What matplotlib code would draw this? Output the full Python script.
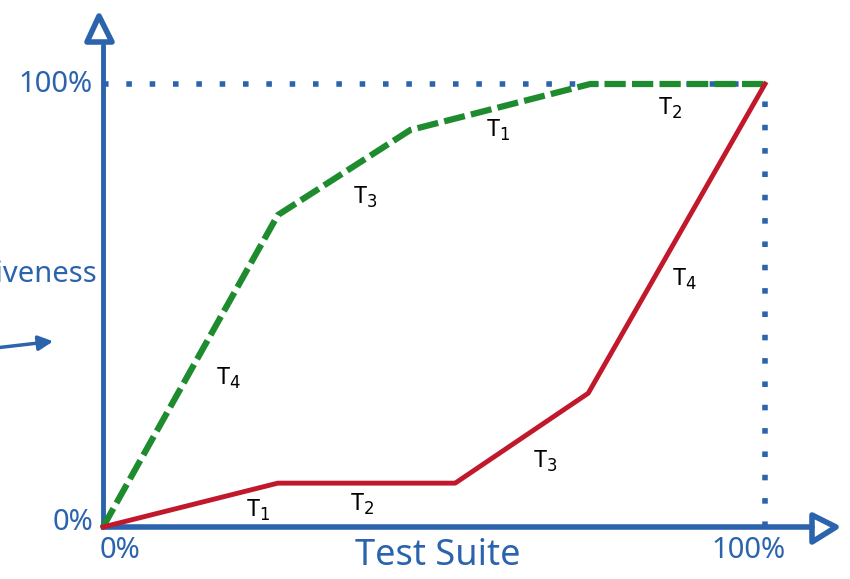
import matplotlib
matplotlib.use("Agg")
import matplotlib.pyplot as plt
from matplotlib.patches import Polygon

# Data (fractions of test suite / effectiveness)
green_x = [0.0, 0.264, 0.464, 0.736, 1.0]
green_y = [0.0, 0.704, 0.896, 1.0, 1.0]
red_x = [0.0, 0.264, 0.532, 0.733, 1.0]
red_y = [0.0, 0.099, 0.099, 0.302, 1.0]
green_labels = ["T$_4$", "T$_3$", "T$_1$", "T$_2$"]
green_label_pos = [(0.189, 0.336), (0.396, 0.745), (0.597, 0.896), (0.857, 0.946)]
red_labels = ["T$_1$", "T$_2$", "T$_3$", "T$_4$"]
red_label_pos = [(0.234, 0.038), (0.391, 0.05), (0.668, 0.147), (0.879, 0.558)]
xtick_labels = ["0%", "100%"]
ytick_labels = ["0%", "100%"]

BLUE = "#2b63ad"
GREEN = "#1e8c2e"
RED = "#c1182b"

plt.rcParams['font.family'] = ['Noto Sans', 'DejaVu Sans']

fig = plt.figure(figsize=(8.5, 5.79), dpi=100)
ax = fig.add_axes([0, 0, 1, 1])
W, H = 850, 579
x0p, x1p = 103, 765
y0p, y1p = 527, 84
sx = x1p - x0p
sy = y0p - y1p
ax.set_xlim(-x0p / sx, (W - x0p) / sx)
ax.set_ylim(-(H - y0p) / sy, y0p / sy)
ax.axis('off')

def px(x, y):
    return ((x - x0p) / sx, (y0p - y) / sy)

# dotted guides
ax.plot([0, 1], [1, 1], color=BLUE, lw=4, linestyle=(0, (1.0, 3.2)), zorder=1)
ax.plot([1, 1], [0, 1], color=BLUE, lw=4, linestyle=(0, (1.0, 3.2)), zorder=1)

# axes
ax.plot([0, 0], [0, px(0, 45)[1]], color=BLUE, lw=3.5, zorder=3, solid_capstyle='round')
ax.plot([0, px(812, 0)[0]], [0, 0], color=BLUE, lw=4, zorder=3, solid_capstyle='round')
# arrow heads (outlined triangles)
tri_up = [px(87, 42), px(112, 42), px(99, 16)]
ax.add_patch(Polygon(tri_up, closed=True, fill=False, edgecolor=BLUE, lw=4, joinstyle='round', zorder=3))
tri_r = [px(812, 515), px(812, 542), px(836, 527)]
ax.add_patch(Polygon(tri_r, closed=True, fill=False, edgecolor=BLUE, lw=4, joinstyle='round', zorder=3))

# series
ax.plot(green_x, green_y, color=GREEN, lw=4.5, linestyle=(0, (3.4, 1.0)), zorder=4)
ax.plot(red_x, red_y, color=RED, lw=3.5, zorder=5)

for t, (x, y) in zip(green_labels, green_label_pos):
    ax.text(x, y, t, fontsize=17, color='black', ha='center', va='center', zorder=6)
for t, (x, y) in zip(red_labels, red_label_pos):
    ax.text(x, y, t, fontsize=17, color='black', ha='center', va='center', zorder=6)

# tick labels
ax.text(*px(93, 85), ytick_labels[1], fontsize=21, color=BLUE, ha='right', va='center')
ax.text(*px(93, 522), ytick_labels[0], fontsize=21, color=BLUE, ha='right', va='center')
ax.text(*px(120, 550), xtick_labels[0], fontsize=21, color=BLUE, ha='center', va='center')
ax.text(*px(748, 550), xtick_labels[1], fontsize=21, color=BLUE, ha='center', va='center')

# axis labels
ax.text(*px(438, 556), "Test Suite", fontsize=26, color=BLUE, ha='center', va='center')
ax.text(*px(97, 275), "Effectiveness", fontsize=21, color=BLUE, ha='right', va='center')

# left arrow
ax.annotate("", xy=px(56, 341), xytext=px(-5, 348),
            arrowprops=dict(arrowstyle='-|>', color=BLUE, lw=2.5, mutation_scale=22))

fig.savefig("out.png", dpi=100)
